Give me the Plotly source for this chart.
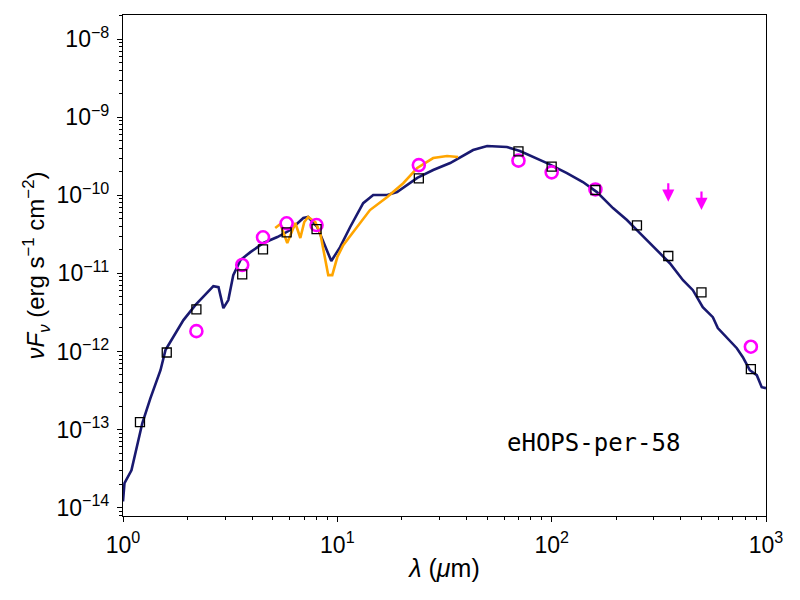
import numpy as np
import plotly.graph_objects as go

# Model SED (navy line)
model_wl = [1.0, 1.016, 1.095, 1.14, 1.19, 1.23, 1.343, 1.496, 1.578, 1.718, 1.914, 2.18, 2.37, 2.64,
            2.79, 2.94, 3.10, 3.27, 3.53, 3.93, 4.52, 5.25, 6.03, 6.94, 7.31, 8.06, 9.37, 10.3, 11.48,
            13.2, 14.7, 17.1, 19.0, 23.6, 28.0, 33.6, 43.0, 50.0, 61.8, 71.1, 95.1, 117.8, 139.9,
            162.6, 193.2, 224.5, 258, 310, 356, 410, 456, 507, 565, 596, 678, 731, 780, 840, 906,
            955, 1000]
model_flux = [1.2e-14, 2.05e-14, 3.0e-14, 4.97e-14, 7.96e-14, 1.2e-13, 2.52e-13, 5.75e-13, 1.04e-12,
              1.52e-12, 2.52e-12, 3.94e-12, 5.0e-12, 6.87e-12, 6.67e-12, 3.59e-12, 4.55e-12, 9.5e-12,
              1.48e-11, 1.87e-11, 2.45e-11, 2.92e-11, 3.59e-11, 5.12e-11, 5.27e-11, 3.93e-11, 1.44e-11,
              2.17e-11, 3.93e-11, 7.94e-11, 1.01e-10, 1.01e-10, 1.10e-10, 1.67e-10, 2.11e-10, 2.59e-10,
              3.80e-10, 4.28e-10, 4.16e-10, 3.70e-10, 2.59e-10, 1.93e-10, 1.48e-10, 1.10e-10, 6.87e-11,
              4.82e-11, 3.28e-11, 1.99e-11, 1.35e-11, 8.18e-12, 6.09e-12, 3.69e-12, 2.75e-12, 1.99e-12,
              1.39e-12, 1.10e-12, 8.44e-13, 5.75e-13, 4.97e-13, 3.48e-13, 3.39e-13]

# IRS spectrum (orange)
spec_wl = [5.13, 5.42, 5.84, 6.17, 6.37, 6.72, 7.01, 7.31, 7.89, 8.32, 8.79, 9.07, 9.47, 10.0, 10.65,
           12.4, 14.2, 17.1, 20.3, 23.6, 28.0, 32.5, 36.6]
spec_flux = [3.81e-11, 4.29e-11, 2.45e-11, 3.59e-11, 4.42e-11, 2.84e-11, 4.55e-11, 5.27e-11, 4.55e-11,
             3.29e-11, 1.48e-11, 9.5e-12, 9.5e-12, 1.62e-11, 2.30e-11, 3.92e-11, 6.47e-11, 9.5e-11,
             1.43e-10, 2.24e-10, 3.0e-10, 3.19e-10, 3.1e-10]

# Model photometry (black squares)
mod_phot_wl = [1.2, 1.6, 2.2, 3.6, 4.5, 5.8, 8.0, 24, 70, 100, 160, 250, 350, 500, 850]
mod_phot_flux = [1.24e-13, 9.7e-13, 3.45e-12, 9.7e-12, 2.03e-11, 3.36e-11, 3.70e-11, 1.65e-10,
                 3.66e-10, 2.33e-10, 1.17e-10, 4.12e-11, 1.67e-11, 5.7e-12, 5.93e-13]

# Observed photometry (magenta circles)
obs_wl = [2.2, 3.6, 4.5, 5.8, 8.0, 24, 70, 100, 160, 850]
obs_flux = [1.82e-12, 1.28e-11, 2.90e-11, 4.38e-11, 4.16e-11, 2.44e-10, 2.78e-10, 1.97e-10, 1.19e-10,
            1.15e-12]

# Upper limits (magenta arrows)
ul_wl = [350, 500]
ul_flux = [1.49e-10, 1.17e-10]
ul_tip = [8.3e-11, 6.5e-11]

source_name = "eHOPS-per-58"

x_tickvals = [1, 10, 100, 1000]
x_ticktext = ["10<sup>0</sup>", "10<sup>1</sup>", "10<sup>2</sup>", "10<sup>3</sup>"]
y_tickvals = [1e-14, 1e-13, 1e-12, 1e-11, 1e-10, 1e-9, 1e-8]
y_ticktext = ["10<sup>\u221214</sup>", "10<sup>\u221213</sup>", "10<sup>\u221212</sup>",
              "10<sup>\u221211</sup>", "10<sup>\u221210</sup>", "10<sup>\u22129</sup>",
              "10<sup>\u22128</sup>"]

x_minor = [m * 10 ** e for e in range(0, 3) for m in range(2, 10)]
y_minor = [m * 10.0 ** e for e in range(-15, -7) for m in range(2, 10)]

NAVY = "#191970"
ORANGE = "#FFA500"
MAGENTA = "#FF00FF"
FONT = "Liberation Sans, Arial, sans-serif"

fig = go.Figure()
fig.add_trace(go.Scatter(x=model_wl, y=model_flux, mode="lines",
                         line=dict(color=NAVY, width=2.6), showlegend=False))
fig.add_trace(go.Scatter(x=spec_wl, y=spec_flux, mode="lines",
                         line=dict(color=ORANGE, width=2.6), showlegend=False))
fig.add_trace(go.Scatter(x=obs_wl, y=obs_flux, mode="markers",
                         marker=dict(symbol="circle-open", size=12, color=MAGENTA,
                                     line=dict(width=2.6, color=MAGENTA)), showlegend=False))
fig.add_trace(go.Scatter(x=mod_phot_wl, y=mod_phot_flux, mode="markers",
                         marker=dict(symbol="square-open", size=9, color="black",
                                     line=dict(width=1.3, color="black")), showlegend=False))

for w, f, t in zip(ul_wl, ul_flux, ul_tip):
    fig.add_annotation(x=np.log10(w), y=np.log10(t), ax=np.log10(w), ay=np.log10(f),
                       xref="x", yref="y", axref="x", ayref="y", text="", showarrow=True,
                       arrowhead=2, arrowsize=1.1, arrowwidth=2.2, arrowcolor=MAGENTA, standoff=0)

fig.add_annotation(x=0.731, y=0.145, xref="paper", yref="paper", text=source_name,
                   xanchor="center", yanchor="middle",
                   showarrow=False, font=dict(family="DejaVu Sans Mono", size=24, color="black"))

axis_common = dict(showline=True, linecolor="black", linewidth=1.2, mirror=True,
                   ticks="outside", ticklen=5, tickwidth=1.1, tickcolor="black",
                   showgrid=False, zeroline=False, ticklabelstandoff=3,
                   tickfont=dict(family=FONT, size=23, color="black"))

fig.update_xaxes(type="log", range=[0, 3], tickvals=x_tickvals, ticktext=x_ticktext,
                 minor=dict(tickvals=x_minor, ticks="outside", ticklen=3, tickwidth=0.8,
                            tickcolor="black", showgrid=False),
                 title=dict(text="<i>\u03bb</i> (<i>\u03bc</i>m)", font=dict(family=FONT, size=25, color="black"),
                            standoff=2),
                 **axis_common)
fig.update_yaxes(type="log", range=[-14.108, -7.69], tickvals=y_tickvals, ticktext=y_ticktext,
                 minor=dict(tickvals=y_minor, ticks="outside", ticklen=3, tickwidth=0.8,
                            tickcolor="black", showgrid=False),
                 title=dict(text="<i>\u03bdF<sub>\u03bd</sub></i> (erg s<sup>\u22121</sup> cm<sup>\u22122</sup>)",
                            font=dict(family=FONT, size=24, color="black"), standoff=4),
                 **axis_common)

fig.update_layout(width=800, height=600, plot_bgcolor="white", paper_bgcolor="white",
                  margin=dict(l=114.5, r=42, t=7, b=92.3, autoexpand=False),
                  showlegend=False)

fig.write_html("out.html")
